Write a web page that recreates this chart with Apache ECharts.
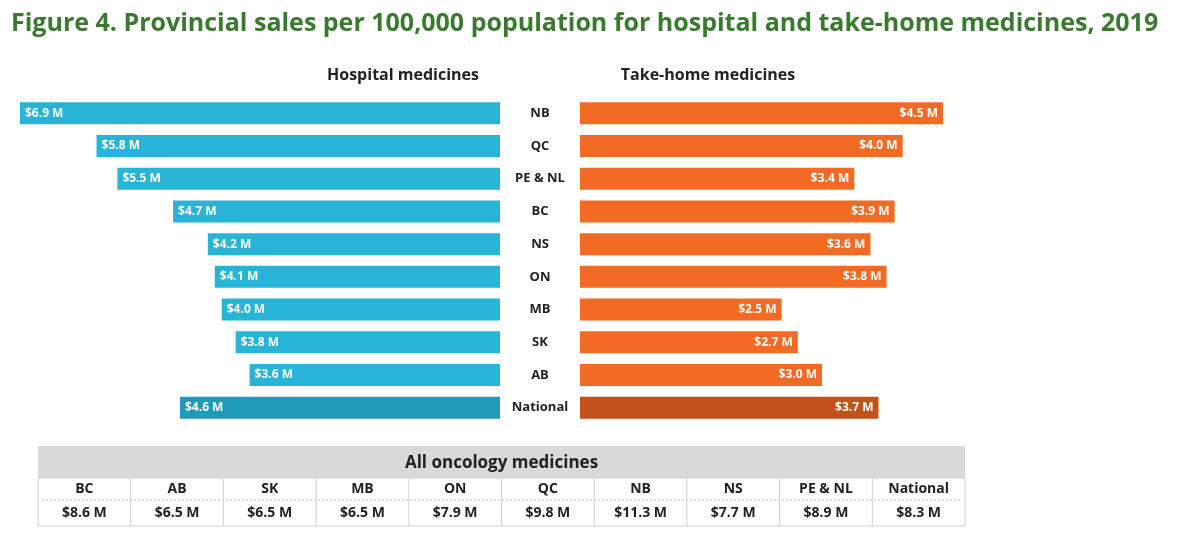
<!DOCTYPE html>
<html>
<head>
<meta charset="utf-8">
<script src="https://cdn.jsdelivr.net/npm/echarts@6/dist/echarts.min.js"></script>
<style>html,body{margin:0;padding:0;background:#fff}#chart{width:1200px;height:537px}</style>
</head>
<body>
<div id="chart"></div>
<script>
var provinces = ['NB', 'QC', 'PE & NL', 'BC', 'NS', 'ON', 'MB', 'SK', 'AB', 'National'];
var hospital = [6.9, 5.8, 5.5, 4.7, 4.2, 4.1, 4.0, 3.8, 3.6, 4.6];
var takeHome = [4.5, 4.0, 3.4, 3.9, 3.6, 3.8, 2.5, 2.7, 3.0, 3.7];
var tableCols = ['BC', 'AB', 'SK', 'MB', 'ON', 'QC', 'NB', 'NS', 'PE & NL', 'National'];
var tableVals = [8.6, 6.5, 6.5, 6.5, 7.9, 9.8, 11.3, 7.7, 8.9, 8.3];

var font = '"Open Sans", sans-serif';
var myChart = echarts.init(document.getElementById('chart'));

function barData(vals, color, dark) {
    return vals.map(function (v, i) {
        return { value: v, itemStyle: { color: provinces[i] === 'National' ? dark : color } };
    });
}
function money(p) { return '$' + p.value.toFixed(1) + ' M'; }

// table drawn as graphic elements
var graphics = [];
var tx = 38, tw = 927, cw = tw / tableCols.length;
graphics.push({ type: 'rect', shape: { x: tx, y: 446, width: tw, height: 32 }, style: { fill: '#d9d9d9' } });
graphics.push({ type: 'rect', shape: { x: tx, y: 478, width: tw, height: 48 }, style: { fill: '#fff', stroke: '#d0d0d0', lineWidth: 1 } });
graphics.push({ type: 'text', x: tx + tw / 2, y: 463, style: { text: 'All oncology medicines', font: 'bold 17px ' + font, fill: '#222', align: 'center', verticalAlign: 'middle' } });
graphics.push({ type: 'line', shape: { x1: tx + 4, y1: 500, x2: tx + tw - 4, y2: 500 }, style: { stroke: '#bbb', lineDash: [2, 2] } });
tableCols.forEach(function (c, i) {
    var cx = tx + cw * i + cw / 2;
    if (i > 0) graphics.push({ type: 'line', shape: { x1: tx + cw * i, y1: 478, x2: tx + cw * i, y2: 526 }, style: { stroke: '#d0d0d0' } });
    graphics.push({ type: 'text', x: cx, y: 489, style: { text: c, font: 'bold 14px ' + font, fill: '#222', align: 'center', verticalAlign: 'middle' } });
    graphics.push({ type: 'text', x: cx, y: 513, style: { text: '$' + tableVals[i].toFixed(1) + ' M', font: 'bold 14px ' + font, fill: '#222', align: 'center', verticalAlign: 'middle' } });
});
graphics.push({ type: 'text', x: 403, y: 75, style: { text: 'Hospital medicines', font: 'bold 16px ' + font, fill: '#222', align: 'center', verticalAlign: 'middle' } });
graphics.push({ type: 'text', x: 708, y: 75, style: { text: 'Take-home medicines', font: 'bold 16px ' + font, fill: '#222', align: 'center', verticalAlign: 'middle' } });

var option = {
    animation: false,
    title: {
        text: 'Figure 4. Provincial sales per 100,000 population for hospital and take-home medicines, 2019',
        left: 6, top: 6,
        textStyle: { color: '#3a7a2e', fontSize: 25, fontWeight: 'bold', fontFamily: font }
    },
    grid: [
        { left: 20, width: 480, top: 97, height: 327 },
        { left: 580, width: 363, top: 97, height: 327 }
    ],
    xAxis: [
        { gridIndex: 0, type: 'value', min: 0, max: 6.9, inverse: true, show: false },
        { gridIndex: 1, type: 'value', min: 0, max: 4.5, show: false }
    ],
    yAxis: [
        { gridIndex: 0, type: 'category', data: provinces, inverse: true, show: false },
        {
            gridIndex: 1, type: 'category', data: provinces, inverse: true,
            axisLine: { show: false }, axisTick: { show: false },
            axisLabel: { align: 'center', margin: 40, fontWeight: 'bold', fontSize: 13, color: '#222', fontFamily: font }
        }
    ],
    series: [
        {
            type: 'bar', xAxisIndex: 0, yAxisIndex: 0, barWidth: 22,
            data: barData(hospital, '#28b4d6', '#1f9ab9'),
            label: { show: true, position: 'insideLeft', formatter: money, color: '#fff', fontWeight: 'bold', fontSize: 12, fontFamily: font }
        },
        {
            type: 'bar', xAxisIndex: 1, yAxisIndex: 1, barWidth: 22,
            data: barData(takeHome, '#f26a24', '#c2521b'),
            label: { show: true, position: 'insideRight', formatter: money, color: '#fff', fontWeight: 'bold', fontSize: 12, fontFamily: font }
        }
    ],
    graphic: graphics
};
myChart.setOption(option);
</script>
</body>
</html>
